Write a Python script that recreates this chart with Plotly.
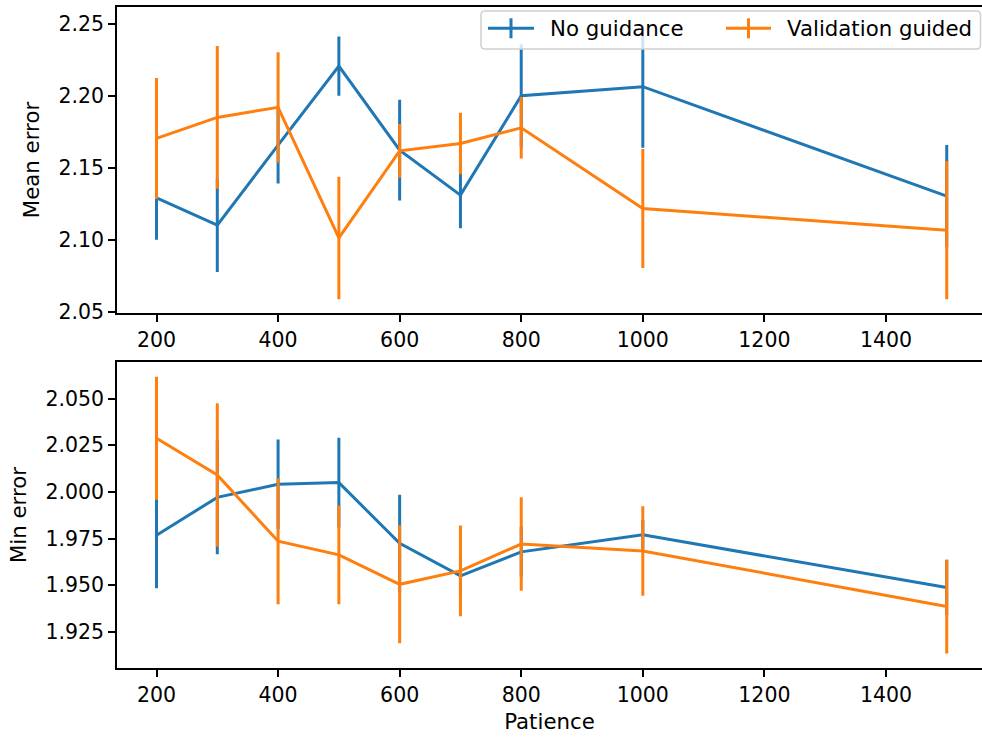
import plotly.graph_objects as go
from plotly.subplots import make_subplots

patience = [200, 300, 400, 500, 600, 700, 800, 1000, 1500]

mean_no_guid = [2.1294, 2.1104, 2.1660, 2.2208, 2.1625, 2.1313, 2.2002, 2.2065, 2.1306]
mean_no_guid_err = [0.0290, 0.0324, 0.0266, 0.0205, 0.0350, 0.0230, 0.0357, 0.0424, 0.0354]
mean_val = [2.1706, 2.1852, 2.1922, 2.1016, 2.1620, 2.1671, 2.1780, 2.1220, 2.1070]
mean_val_err = [0.0420, 0.0495, 0.0382, 0.0425, 0.0187, 0.0213, 0.0213, 0.0412, 0.0480]

min_no_guid = [1.9768, 1.9971, 2.0041, 2.0050, 1.9725, 1.9550, 1.9679, 1.9770, 1.9488]
min_no_guid_err = [0.0284, 0.0305, 0.0240, 0.0240, 0.0260, 0.0103, 0.0133, 0.0080, 0.0148]
min_val = [2.0288, 2.0091, 1.9736, 1.9663, 1.9505, 1.9577, 1.9721, 1.9684, 1.9386]
min_val_err = [0.0330, 0.0384, 0.0338, 0.0265, 0.0316, 0.0243, 0.0251, 0.0240, 0.0252]

series_names = ["No guidance", "Validation guided"]

BLUE = "#1f77b4"
ORANGE = "#ff7f0e"
FONT = "DejaVu Sans"
TICK_FS = 20.5
LABEL_FS = 21.3

W, H = 982, 737
L, R = 117, 0
fig = make_subplots(rows=2, cols=1)

def add(row, y, err, color, name):
    fig.add_trace(go.Scatter(
        x=patience, y=y, mode="lines", name=name, showlegend=False,
        line=dict(color=color, width=3),
        error_y=dict(type="data", array=err, visible=True, color=color, thickness=3, width=0),
    ), row=row, col=1)

add(1, mean_no_guid, mean_no_guid_err, BLUE, series_names[0])
add(1, mean_val, mean_val_err, ORANGE, series_names[1])
add(2, min_no_guid, min_no_guid_err, BLUE, series_names[0])
add(2, min_val, min_val_err, ORANGE, series_names[1])

def py(p):
    return 1 - p / H

def px(p):
    return (p - L) / (W - L - R)

axis_common = dict(showgrid=False, zeroline=False, showline=True, linecolor="black", linewidth=1.6,
                   ticks="outside", ticklen=7, tickwidth=1.6, tickcolor="black",
                   tickfont=dict(family=FONT, size=TICK_FS, color="black"))

fig.update_xaxes(**axis_common, range=[135, 1558], tickvals=[200, 400, 600, 800, 1000, 1200, 1400], mirror=True)
fig.update_yaxes(**axis_common, mirror=False)

title_font = dict(family=FONT, size=LABEL_FS, color="black")
fig.update_layout(
    xaxis=dict(domain=[0, 1]),
    xaxis2=dict(domain=[0, 1], title=dict(text="Patience", font=title_font, standoff=8)),
    yaxis=dict(domain=[py(313.3), py(6.7)], range=[2.0493, 2.2620],
               tickvals=[2.05, 2.10, 2.15, 2.20, 2.25], tickformat=".2f",
               title=dict(text="Mean error", font=title_font, standoff=13)),
    yaxis2=dict(domain=[py(668.3), py(361.7)], range=[1.9055, 2.0698],
                tickvals=[1.925, 1.950, 1.975, 2.000, 2.025, 2.050], tickformat=".3f",
                title=dict(text="Min error", font=title_font, standoff=13)),
)

# custom legend (box + errorbar-style glyphs + labels), placed in paper coordinates
bx0, bx1, by0, by1, rad = 481, 980.5, 11, 49, 4
x0p, x1p, y0p, y1p = px(bx0), px(bx1), py(by1), py(by0)
rx, ry = rad / (W - L - R), rad / H
path = (f"M {x0p+rx},{y0p} L {x1p-rx},{y0p} Q {x1p},{y0p} {x1p},{y0p+ry} "
        f"L {x1p},{y1p-ry} Q {x1p},{y1p} {x1p-rx},{y1p} L {x0p+rx},{y1p} "
        f"Q {x0p},{y1p} {x0p},{y1p-ry} L {x0p},{y0p+ry} Q {x0p},{y0p} {x0p+rx},{y0p} Z")
shapes = [dict(type="path", path=path, xref="paper", yref="paper",
               fillcolor="rgba(255,255,255,0.8)", line=dict(color="#d0d0d0", width=1.5), layer="above")]
annotations = []
legend_items = [(488, 534, 549, BLUE, series_names[0]), (726, 771, 786, ORANGE, series_names[1])]
ymid = 28.3
for lx0, lx1, tx, col, name in legend_items:
    shapes.append(dict(type="line", xref="paper", yref="paper", x0=px(lx0), x1=px(lx1), y0=py(ymid), y1=py(ymid),
                       line=dict(color=col, width=3), layer="above"))
    xm = (lx0 + lx1) / 2
    shapes.append(dict(type="line", xref="paper", yref="paper", x0=px(xm), x1=px(xm), y0=py(18.3), y1=py(38.3),
                       line=dict(color=col, width=3), layer="above"))
    annotations.append(dict(x=px(tx), y=py(ymid), xref="paper", yref="paper", text=name, showarrow=False,
                            xanchor="left", yanchor="middle", borderpad=0,
                            font=dict(family=FONT, size=LABEL_FS, color="black")))

fig.update_layout(
    width=W, height=H,
    margin=dict(l=L, r=R, t=0, b=0, autoexpand=False),
    paper_bgcolor="white", plot_bgcolor="white",
    font=dict(family=FONT, size=LABEL_FS, color="black"),
    showlegend=False,
    shapes=shapes, annotations=annotations,
)

fig.write_html("out.html")
